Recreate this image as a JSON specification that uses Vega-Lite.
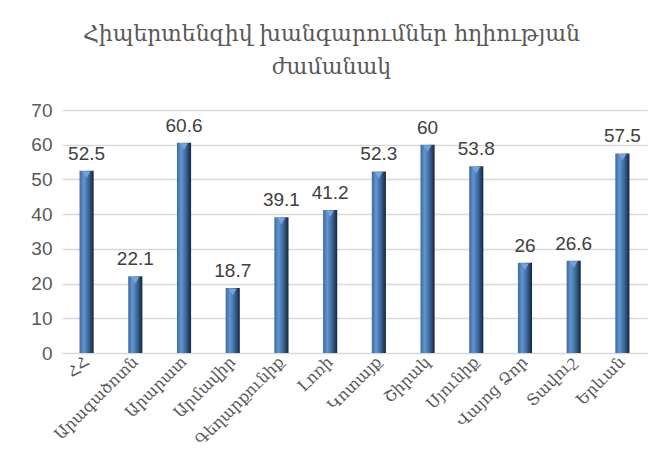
{
  "$schema": "https://vega.github.io/schema/vega-lite/v6.json",
  "autosize": "none",
  "width": 585,
  "height": 243,
  "padding": {"left": 62, "top": 110, "right": 18, "bottom": 115},
  "background": "white",
  "title": {
    "text": ["Հիպերտենզիվ խանգարումներ հղիության", "ժամանակ"],
    "frame": "group",
    "anchor": "middle",
    "dx": -23,
    "offset": 22,
    "font": "DejaVu Serif",
    "fontSize": 22,
    "fontWeight": "normal",
    "color": "#595959",
    "lineHeight": 33
  },
  "config": {"view": {"stroke": null}},
  "data": {"values": [
    {"region": "ՀՀ", "value": 52.5},
    {"region": "Արագածոտն", "value": 22.1},
    {"region": "Արարատ", "value": 60.6},
    {"region": "Արմավիր", "value": 18.7},
    {"region": "Գեղարքունիք", "value": 39.1},
    {"region": "Լոռի", "value": 41.2},
    {"region": "Կոտայք", "value": 52.3},
    {"region": "Շիրակ", "value": 60},
    {"region": "Սյունիք", "value": 53.8},
    {"region": "Վայոց Ձոր", "value": 26},
    {"region": "Տավուշ", "value": 26.6},
    {"region": "Երևան", "value": 57.5}
  ]},
  "encoding": {
    "x": {
      "field": "region", "type": "nominal", "sort": null,
      "scale": {"paddingInner": 0.71, "paddingOuter": 0.36},
      "axis": {
        "title": null, "labelAngle": -45, "labelAlign": "right", "labelBaseline": "middle",
        "labelFont": "DejaVu Serif", "labelFontSize": 16, "labelColor": "#595959",
        "ticks": false, "domainColor": "#d9d9d9", "labelPadding": 6
      }
    },
    "y": {
      "field": "value", "type": "quantitative",
      "scale": {"domain": [0, 70], "nice": false},
      "axis": {
        "title": null, "values": [0,10,20,30,40,50,60,70], "domain": false, "ticks": false,
        "gridColor": "#d9d9d9", "gridWidth": 1.3, "labelFont": "Liberation Sans",
        "labelFontSize": 19, "labelColor": "#595959", "labelPadding": 10
      }
    }
  },
  "layer": [
    {
      "mark": {
        "type": "bar",
        "color": {
          "gradient": "linear", "x1": 0, "x2": 1, "y1": 0, "y2": 0,
          "stops": [
            {"offset": 0, "color": "#3d6a9e"},
            {"offset": 0.3, "color": "#6395d0"},
            {"offset": 0.65, "color": "#3a6597"},
            {"offset": 1, "color": "#15253a"}
          ]
        }
      }
    },
    {
      "mark": {"type": "point", "shape": "triangle-down", "filled": true, "color": "#72a3dc", "size": 60, "yOffset": 4, "opacity": 1}
    },
    {
      "mark": {"type": "text", "dy": -17, "baseline": "middle", "font": "Liberation Sans", "fontSize": 19, "color": "#404040"},
      "encoding": {"text": {"field": "value", "type": "quantitative"}}
    }
  ]
}
